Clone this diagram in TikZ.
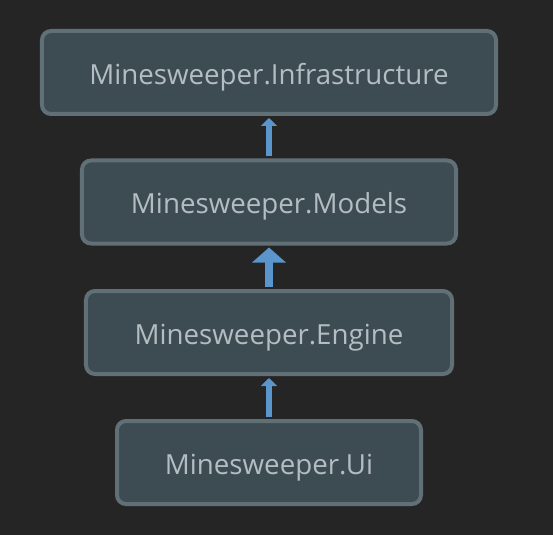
\documentclass[tikz,border=0pt]{standalone}
\usepackage{fontspec}
\setmainfont{Open Sans}
\usetikzlibrary{arrows.meta}
\definecolor{bg}{HTML}{252526}
\definecolor{boxfill}{HTML}{3D4C53}
\definecolor{boxdraw}{HTML}{616F76}
\definecolor{boxtext}{HTML}{B3BDC2}
\definecolor{arrowblue}{HTML}{5A96CB}
\begin{document}
\begin{tikzpicture}[x=1bp,y=-1bp,
  pkg/.style={draw=boxdraw, fill=boxfill, line width=4bp, rounded corners=9bp,
    minimum height=83bp, text=boxtext, font=\fontsize{27.8}{32}\selectfont, inner sep=0pt,
    text height=23.5bp, text depth=0bp},
  thindep/.style={draw=arrowblue, line width=5.5bp, shorten >=2bp, shorten <=2bp,
    -{Triangle[width=16bp,length=8bp]}},
  thickdep/.style={draw=arrowblue, line width=8bp, shorten >=2bp, shorten <=2bp,
    -{Triangle[width=33bp,length=15bp]}}]
\fill[bg] (0,0) rectangle (553,535);
\useasboundingbox (0,0) rectangle (553,535);
\node[pkg, minimum width=454bp] (infra) at (269,72.5) {Minesweeper.Infrastructure};
\node[pkg, minimum width=374bp] (models) at (269,202) {Minesweeper.Models};
\node[pkg, minimum width=366bp] (engine) at (269,332.5) {Minesweeper.Engine};
\node[pkg, minimum width=304bp] (ui) at (269,462.5) {Minesweeper.Ui};
\draw[thindep] (models.north) -- (infra.south);
\draw[thickdep] (engine.north) -- (models.south);
\draw[thindep] (ui.north) -- (engine.south);
\end{tikzpicture}
\end{document}
